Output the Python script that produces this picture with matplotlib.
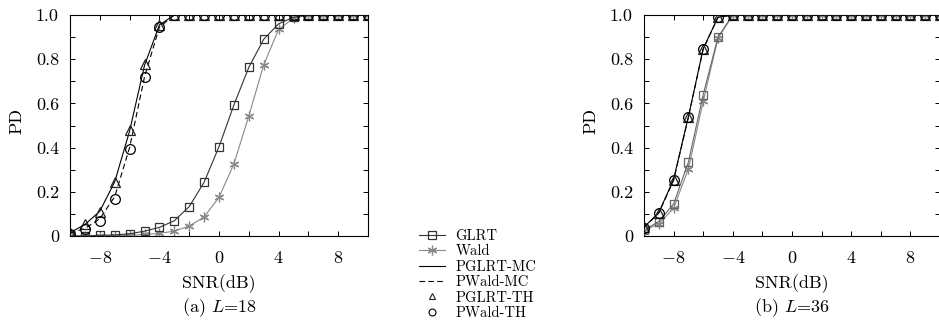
import matplotlib
matplotlib.use("Agg")
import matplotlib.pyplot as plt
from matplotlib.lines import Line2D
import numpy as np

plt.rcParams['font.family'] = ['cmr10', 'DejaVu Serif']
plt.rcParams['mathtext.fontset'] = 'cm'
plt.rcParams['axes.formatter.use_mathtext'] = True
plt.rcParams['font.size'] = 13

snr = list(range(-10, 11))

# L = 18
glrt_18 = [0.0, 0.0, 0.003, 0.005, 0.01, 0.022, 0.039, 0.069, 0.133, 0.243, 0.404,
           0.593, 0.763, 0.89, 0.96, 0.99, 1.0, 1.0, 1.0, 1.0, 1.0]
wald_18 = [0.0, 0.0, 0.0, 0.001, 0.003, 0.007, 0.012, 0.022, 0.045, 0.086, 0.175,
           0.326, 0.543, 0.774, 0.935, 0.985, 1.0, 1.0, 1.0, 1.0, 1.0]
pglrt_mc_18 = [0.015, 0.052, 0.112, 0.245, 0.475, 0.772, 0.955, 1.0, 1.0, 1.0, 1.0,
               1.0, 1.0, 1.0, 1.0, 1.0, 1.0, 1.0, 1.0, 1.0, 1.0]
pwald_mc_18 = [0.012, 0.034, 0.078, 0.178, 0.40, 0.72, 0.945, 1.0, 1.0, 1.0, 1.0,
               1.0, 1.0, 1.0, 1.0, 1.0, 1.0, 1.0, 1.0, 1.0, 1.0]
pglrt_th_18 = [0.015, 0.054, 0.11, 0.246, 0.48, 0.777, 0.955, 1.0, 1.0, 1.0, 1.0,
               1.0, 1.0, 1.0, 1.0, 1.0, 1.0, 1.0, 1.0, 1.0, 1.0]
pwald_th_18 = [0.01, 0.03, 0.069, 0.167, 0.394, 0.718, 0.947, 1.0, 1.0, 1.0, 1.0,
               1.0, 1.0, 1.0, 1.0, 1.0, 1.0, 1.0, 1.0, 1.0, 1.0]

# L = 36
glrt_36 = [0.027, 0.065, 0.145, 0.334, 0.64, 0.90, 1.0, 1.0, 1.0, 1.0, 1.0,
           1.0, 1.0, 1.0, 1.0, 1.0, 1.0, 1.0, 1.0, 1.0, 1.0]
wald_36 = [0.024, 0.055, 0.126, 0.304, 0.61, 0.895, 1.0, 1.0, 1.0, 1.0, 1.0,
           1.0, 1.0, 1.0, 1.0, 1.0, 1.0, 1.0, 1.0, 1.0, 1.0]
pglrt_mc_36 = [0.04, 0.106, 0.256, 0.54, 0.848, 0.99, 1.0, 1.0, 1.0, 1.0, 1.0,
               1.0, 1.0, 1.0, 1.0, 1.0, 1.0, 1.0, 1.0, 1.0, 1.0]
pwald_mc_36 = [0.038, 0.104, 0.252, 0.538, 0.845, 0.99, 1.0, 1.0, 1.0, 1.0, 1.0,
               1.0, 1.0, 1.0, 1.0, 1.0, 1.0, 1.0, 1.0, 1.0, 1.0]
pglrt_th_36 = [0.04, 0.106, 0.254, 0.54, 0.847, 0.99, 1.0, 1.0, 1.0, 1.0, 1.0,
               1.0, 1.0, 1.0, 1.0, 1.0, 1.0, 1.0, 1.0, 1.0, 1.0]
pwald_th_36 = [0.038, 0.104, 0.254, 0.54, 0.847, 0.99, 1.0, 1.0, 1.0, 1.0, 1.0,
               1.0, 1.0, 1.0, 1.0, 1.0, 1.0, 1.0, 1.0, 1.0, 1.0]

xtick_pos = [-8, -4, 0, 4, 8]
xtick_labels = [r'$-8$', r'$-4$', r'$0$', r'$4$', r'$8$']
ytick_pos = [0, 0.2, 0.4, 0.6, 0.8, 1.0]
ytick_labels = ['0', '0.2', '0.4', '0.6', '0.8', '1.0']
legend_labels = ['GLRT', 'Wald', 'PGLRT-MC', 'PWald-MC', 'PGLRT-TH', 'PWald-TH']
captions = [r'(a) $L$=18', r'(b) $L$=36']

fig = plt.figure(figsize=(9.39, 3.22), dpi=100)
W, H = 939, 322
ax1 = fig.add_axes([70 / W, (322 - 236) / H, 298 / W, 221 / H])
ax2 = fig.add_axes([644 / W, (322 - 236) / H, 296 / W, 221 / H])

ast = (6, 2, 0)
lw = 0.8

def draw(ax, g, w, pmc, wmc, pth, wth, gcol, caption):
    ax.plot(snr, w, color='#888888', lw=lw, marker=ast, ms=7, mec='#888888',
            mew=0.9, zorder=2)
    ax.plot(snr, g, color=gcol, lw=lw, marker='s', ms=6, mfc='none', mec=gcol,
            mew=0.9, zorder=3)
    ax.plot(snr, pmc, color='black', lw=lw, ls='-', zorder=4)
    ax.plot(snr, wmc, color='black', lw=lw, ls=(0, (5, 3)), zorder=4)
    ax.plot(snr, pth, ls='none', marker='^', ms=6.5, mfc='none', mec='#222222',
            mew=0.9, zorder=5)
    ax.plot(snr, wth, ls='none', marker='o', ms=7, mfc='none', mec='black',
            mew=0.9, zorder=6)
    ax.set_xlim(-10, 10)
    ax.set_ylim(0, 1.0)
    ax.set_xticks(np.arange(-10, 11, 2), minor=True)
    ax.set_xticks(xtick_pos)
    ax.set_xticklabels(xtick_labels)
    ax.set_yticks(np.arange(0, 1.01, 0.1), minor=True)
    ax.set_yticks(ytick_pos)
    ax.set_yticklabels(ytick_labels)
    ax.tick_params(which='both', direction='in', top=True, right=True,
                   length=3.5, width=0.7, labelsize=13)
    ax.tick_params(axis='x', which='both', pad=10)
    ax.tick_params(axis='y', which='both', pad=8)
    for s in ax.spines.values():
        s.set_linewidth(0.8)
    ax.set_xlabel('SNR(dB)', fontsize=13)
    ax.xaxis.set_label_coords(0.5, -0.217)
    ax.xaxis.label.set_va('center')
    ax.set_ylabel('PD', fontsize=13)
    ax.yaxis.set_label_coords(-0.18, 0.52)
    ax.yaxis.label.set_va('center')
    ax.text(0.5, -0.326, caption, transform=ax.transAxes, ha='center', va='center',
            fontsize=13)

draw(ax1, glrt_18, wald_18, pglrt_mc_18, pwald_mc_18, pglrt_th_18, pwald_th_18,
     '#333333', captions[0])
draw(ax2, glrt_36, wald_36, pglrt_mc_36, pwald_mc_36, pglrt_th_36, pwald_th_36,
     '#666666', captions[1])

handles = [
    Line2D([], [], color='#333333', lw=lw, marker='s', ms=6, mfc='none', mew=0.9),
    Line2D([], [], color='#888888', lw=lw, marker=ast, ms=7, mew=0.9),
    Line2D([], [], color='black', lw=lw),
    Line2D([], [], color='black', lw=lw, ls=(0, (5, 3))),
    Line2D([], [], ls='none', marker='^', ms=5, mfc='none', mec='#222222', mew=0.8),
    Line2D([], [], ls='none', marker='o', ms=5, mfc='none', mec='black', mew=0.8),
]
fig.legend(handles, legend_labels, loc='upper left',
           bbox_to_anchor=(419 / W, 1 - 229 / H), frameon=False, fontsize=10.5,
           handlelength=1.8, handletextpad=0.7, labelspacing=0.12,
           borderpad=0, borderaxespad=0)

fig.savefig('out.png', dpi=100)
